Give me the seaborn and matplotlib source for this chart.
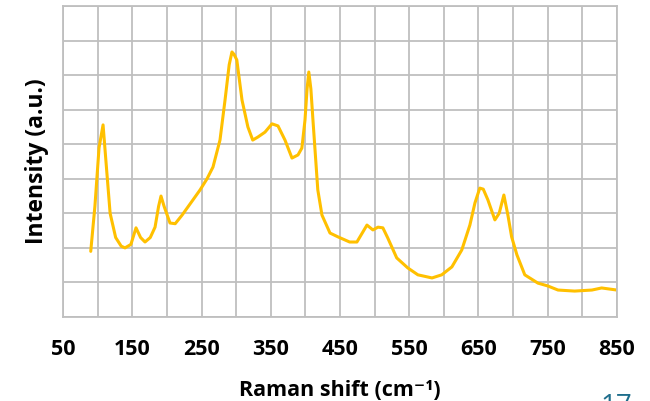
import matplotlib
matplotlib.use("Agg")
import matplotlib.pyplot as plt
import seaborn as sns
import pandas as pd

# Raman spectrum
shift = [90, 96, 102, 107.8, 112, 118, 126, 134, 139.5, 148, 155.4, 162, 168.4, 176, 182.9,
         188, 191.5, 196, 204.5, 212, 222, 237.7, 248, 258, 266.6, 276.7, 284, 290, 294,
         297, 301, 308.5, 317, 324, 331.6, 341.7, 351.8, 360.5, 370.6, 380.7, 389.4, 395,
         399.5, 402.5, 405, 408, 411, 418, 424, 435.6, 447, 464, 474.5, 489, 497.6, 505,
         512, 519, 532, 548, 562.6, 583, 597, 611.7, 626, 637.7, 645, 652, 657, 663.7,
         673.8, 680, 686.8, 692.6, 698, 705.6, 717, 736, 750, 765, 789, 814, 828, 850]
intensity = [1.9, 3.2, 4.9, 5.56, 4.5, 3.0, 2.3, 2.05, 2.0, 2.1, 2.58, 2.3, 2.17, 2.3, 2.6,
             3.2, 3.5, 3.2, 2.72, 2.7, 2.95, 3.39, 3.68, 4.0, 4.34, 5.12, 6.28, 7.3, 7.67,
             7.6, 7.44, 6.28, 5.5, 5.12, 5.21, 5.35, 5.59, 5.53, 5.12, 4.6, 4.69, 4.89,
             5.7, 6.6, 7.09, 6.6, 5.7, 3.68, 2.95, 2.43, 2.32, 2.17, 2.17, 2.66, 2.52, 2.6,
             2.58, 2.29, 1.71, 1.42, 1.22, 1.13, 1.22, 1.45, 1.94, 2.66, 3.3, 3.73, 3.7, 3.39,
             2.81, 3.0, 3.53, 2.95, 2.32, 1.8, 1.22, 0.98, 0.9, 0.78, 0.75, 0.78, 0.84, 0.78]
xticks = [50, 150, 250, 350, 450, 550, 650, 750, 850]

df = pd.DataFrame({"shift": shift, "intensity": intensity})

sns.set_style("white")
plt.rcParams["font.family"] = ["Open Sans", "DejaVu Sans"]
plt.rcParams["text.color"] = "black"
plt.rcParams["axes.labelcolor"] = "black"
plt.rcParams["xtick.color"] = "black"

fig = plt.figure(figsize=(6.5, 4.01), dpi=100)
ax = fig.add_axes([0.097, 0.2095, 0.852, 0.7755])

sns.lineplot(data=df, x="shift", y="intensity", color="#FFC000", linewidth=2.2, ax=ax)

ax.set_xlim(50, 850)
ax.set_ylim(0, 9)
ax.set_xticks(xticks)
ax.set_xticks(range(100, 850, 100), minor=True)
ax.set_yticks(range(0, 10))
ax.grid(True, which="both", color="#BFBFBF", linewidth=1.3)
ax.tick_params(axis="y", labelleft=False, length=0)
ax.tick_params(axis="x", which="both", length=0, pad=16, labelcolor="black")
for lab in ax.get_xticklabels():
    lab.set_fontweight("bold")
    lab.set_fontsize(15.5)
for sp in ax.spines.values():
    sp.set_color("#BFBFBF")
    sp.set_linewidth(1.3)

ax.set_xlabel("Raman shift (cm\u207b\u00b9)", fontsize=15.5, fontweight="bold", labelpad=14)
ax.set_ylabel("Intensity (a.u.)", fontsize=16.5, fontweight="bold", labelpad=10)

fig.text(0.923, 0.02, "17", color="#1F6E8C", fontsize=20, ha="left", va="top")

fig.savefig("out.png", dpi=100)
